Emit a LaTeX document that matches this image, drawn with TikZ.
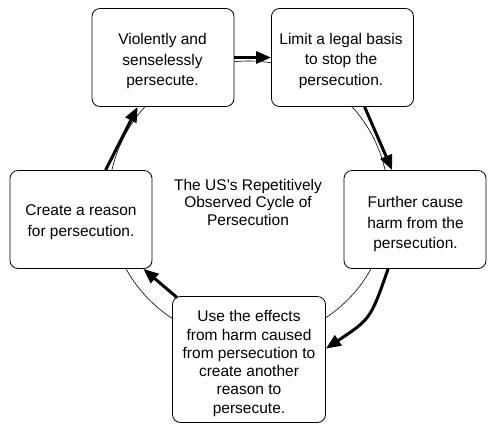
\documentclass[tikz,border=0pt]{standalone}
\usepackage{fontspec}
\setmainfont{Liberation Sans}
\usetikzlibrary{arrows.meta,calc}
\begin{document}
\begin{tikzpicture}[x=1pt,y=-1pt,
  box/.style={draw, line width=0.8pt, rounded corners=8pt, fill=white,
    inner sep=0pt, minimum width=142pt, minimum height=98pt},
  txt/.style={align=center, inner sep=0pt, font=\fontsize{15.5}{20.5}\selectfont},
  arr/.style={line width=3pt, -{Triangle[length=15pt,width=12pt]}},
  ring/.style={line width=0.6pt}
]
\useasboundingbox (0,0) rectangle (498,432);
\coordinate (ctr) at (248.5,201);
\draw[ring] (ctr) circle[radius=140];

\node[box] (b1) at (163,57.5) {};
\node[box] (b2) at (342.5,57.5) {};
\node[box] (b3) at (415,219.5) {};
\node[box, minimum width=153pt, minimum height=126pt] (b4) at (249,359.5) {};
\node[box] (b5) at (81,219.5) {};

\node[txt] (t1) at ($(b1.center)+(-0.5,3.5)$) {Violently and\\senselessly\\persecute.};
\node[txt] (t2) at ($(b2.center)+(-1.5,3)$) {Limit a legal basis\\to stop the\\persecution.};
\node[txt] (t3) at ($(b3.center)+(0.5,4.5)$) {Further cause\\harm from the\\persecution.};
\node[txt, font=\fontsize{15.5}{18.3}\selectfont] (t4) at ($(b4.center)+(0,4)$)
  {Use the effects\\from harm caused\\from persecution to\\create another\\reason to\\persecute.};
\node[txt] (t5) at ($(b5.center)+(0,2.5)$) {Create a reason\\for persecution.};

\node[txt, font=\fontsize{15.5}{17.5}\selectfont] (title) at (248,202)
  {The US’s Repetitively\\Observed Cycle of\\Persecution};

\draw[arr] (b1.east) -- (b2.west);
\draw[arr] ($(b2.south west)+(93.5,0)$) -- ($(b3.north west)+(48.5,0)$);
\draw[arr] ($(b3.south west)+(44.5,0)$) .. controls ($(b3.south west)+(27,50)$) .. ($(b4.north east)+(0,52.5)$);
\draw[arr] ($(b4.north west)+(5,1.5)$) -- ($(b5.south east)+(-9,0)$);
\draw[arr] ($(b5.north west)+(96,0)$) -- ($(b1.south west)+(46,0)$);
\end{tikzpicture}
\end{document}
